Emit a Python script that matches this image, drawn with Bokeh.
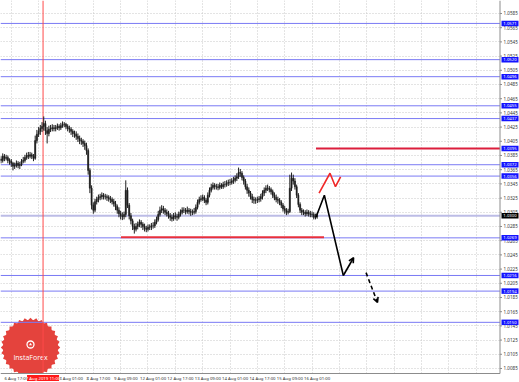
import math
from bokeh.plotting import figure
from bokeh.models import Range1d, FixedTicker, Arrow, OpenHead, ColumnDataSource, Grid
from bokeh.core.properties import value
from bokeh.embed import file_html
from bokeh.resources import INLINE

# ---------------- data (H1 bars, 6 Aug 11:00 .. 16 Aug 07:00, 2019) ----------------
first_open = 1.0380
close = [
    1.0378, 1.0384, 1.0381, 1.0382, 1.0378, 1.0377, 1.0374, 1.0370, 1.0371, 1.0374,
    1.0371, 1.0372, 1.0377, 1.0378, 1.0382, 1.0385, 1.0384, 1.0386, 1.0384, 1.0381,
    1.0406, 1.0415, 1.0419, 1.0423, 1.0426, 1.0430, 1.0420, 1.0416, 1.0422, 1.0423,
    1.0424, 1.0423, 1.0424, 1.0426, 1.0424, 1.0427, 1.0429, 1.0429, 1.0426, 1.0423,
    1.0422, 1.0419, 1.0416, 1.0415, 1.0412, 1.0409, 1.0406, 1.0405, 1.0402, 1.0399,
    1.0392, 1.0364, 1.0339, 1.0315, 1.0308, 1.0320, 1.0323, 1.0326, 1.0327, 1.0329,
    1.0327, 1.0327, 1.0326, 1.0324, 1.0323, 1.0320, 1.0317, 1.0313, 1.0308, 1.0303,
    1.0300, 1.0299, 1.0302, 1.0336, 1.0315, 1.0300, 1.0293, 1.0285, 1.0281, 1.0285,
    1.0288, 1.0291, 1.0288, 1.0285, 1.0282, 1.0281, 1.0284, 1.0284, 1.0286, 1.0286,
    1.0291, 1.0295, 1.0302, 1.0308, 1.0310, 1.0308, 1.0305, 1.0303, 1.0300, 1.0298,
    1.0296, 1.0300, 1.0299, 1.0298, 1.0302, 1.0305, 1.0308, 1.0308, 1.0306, 1.0308,
    1.0306, 1.0305, 1.0305, 1.0306, 1.0312, 1.0319, 1.0323, 1.0324, 1.0326, 1.0322,
    1.0319, 1.0329, 1.0336, 1.0340, 1.0343, 1.0341, 1.0341, 1.0340, 1.0343, 1.0341,
    1.0344, 1.0344, 1.0346, 1.0347, 1.0347, 1.0349, 1.0350, 1.0353, 1.0355, 1.0361,
    1.0360, 1.0354, 1.0349, 1.0341, 1.0336, 1.0332, 1.0327, 1.0323, 1.0322, 1.0322,
    1.0323, 1.0324, 1.0327, 1.0332, 1.0336, 1.0339, 1.0339, 1.0337, 1.0334, 1.0329,
    1.0326, 1.0323, 1.0322, 1.0319, 1.0315, 1.0310, 1.0308, 1.0305, 1.0306, 1.0339,
    1.0353, 1.0349, 1.0341, 1.0329, 1.0316, 1.0308, 1.0305, 1.0305, 1.0303, 1.0305,
    1.0303, 1.0302, 1.0302, 1.0298, 1.0299, 1.0300,
]
high = [
    1.0384, 1.0388, 1.0387, 1.0386, 1.0385, 1.0381, 1.0380, 1.0376, 1.0375, 1.0378,
    1.0377, 1.0376, 1.0380, 1.0383, 1.0386, 1.0389, 1.0390, 1.0390, 1.0389, 1.0387,
    1.0413, 1.0421, 1.0425, 1.0428, 1.0432, 1.0440, 1.0434, 1.0425, 1.0427, 1.0428,
    1.0429, 1.0428, 1.0428, 1.0430, 1.0429, 1.0431, 1.0433, 1.0432, 1.0431, 1.0429,
    1.0427, 1.0425, 1.0422, 1.0420, 1.0419, 1.0416, 1.0413, 1.0410, 1.0408, 1.0406,
    1.0403, 1.0395, 1.0367, 1.0343, 1.0319, 1.0324, 1.0327, 1.0330, 1.0331, 1.0333,
    1.0332, 1.0331, 1.0330, 1.0329, 1.0328, 1.0326, 1.0324, 1.0321, 1.0316, 1.0312,
    1.0307, 1.0305, 1.0306, 1.0350, 1.0340, 1.0318, 1.0304, 1.0296, 1.0289, 1.0290,
    1.0292, 1.0295, 1.0294, 1.0291, 1.0289, 1.0286, 1.0288, 1.0288, 1.0290, 1.0291,
    1.0295, 1.0299, 1.0307, 1.0313, 1.0315, 1.0314, 1.0311, 1.0309, 1.0307, 1.0304,
    1.0302, 1.0304, 1.0305, 1.0303, 1.0306, 1.0309, 1.0312, 1.0312, 1.0311, 1.0313,
    1.0311, 1.0310, 1.0309, 1.0311, 1.0316, 1.0323, 1.0327, 1.0329, 1.0330, 1.0329,
    1.0325, 1.0333, 1.0340, 1.0345, 1.0347, 1.0346, 1.0345, 1.0345, 1.0347, 1.0346,
    1.0348, 1.0349, 1.0350, 1.0351, 1.0352, 1.0353, 1.0355, 1.0357, 1.0360, 1.0368,
    1.0366, 1.0363, 1.0357, 1.0352, 1.0345, 1.0340, 1.0335, 1.0331, 1.0327, 1.0326,
    1.0327, 1.0328, 1.0331, 1.0336, 1.0340, 1.0343, 1.0344, 1.0342, 1.0340, 1.0337,
    1.0333, 1.0330, 1.0327, 1.0325, 1.0322, 1.0318, 1.0314, 1.0311, 1.0310, 1.0358,
    1.0361, 1.0358, 1.0353, 1.0344, 1.0332, 1.0319, 1.0311, 1.0309, 1.0308, 1.0309,
    1.0308, 1.0307, 1.0306, 1.0305, 1.0303, 1.0304,
]
low = [
    1.0374, 1.0375, 1.0377, 1.0378, 1.0374, 1.0372, 1.0369, 1.0364, 1.0366, 1.0368,
    1.0367, 1.0366, 1.0370, 1.0374, 1.0375, 1.0379, 1.0380, 1.0381, 1.0380, 1.0377,
    1.0379, 1.0402, 1.0411, 1.0414, 1.0418, 1.0420, 1.0414, 1.0402, 1.0412, 1.0418,
    1.0419, 1.0419, 1.0419, 1.0421, 1.0420, 1.0421, 1.0424, 1.0425, 1.0422, 1.0419,
    1.0417, 1.0414, 1.0411, 1.0410, 1.0407, 1.0404, 1.0401, 1.0400, 1.0397, 1.0393,
    1.0386, 1.0358, 1.0332, 1.0309, 1.0303, 1.0305, 1.0316, 1.0319, 1.0322, 1.0323,
    1.0323, 1.0323, 1.0321, 1.0320, 1.0318, 1.0316, 1.0313, 1.0308, 1.0303, 1.0298,
    1.0295, 1.0294, 1.0295, 1.0298, 1.0311, 1.0295, 1.0288, 1.0280, 1.0275, 1.0278,
    1.0281, 1.0284, 1.0283, 1.0280, 1.0278, 1.0277, 1.0278, 1.0280, 1.0280, 1.0282,
    1.0283, 1.0288, 1.0292, 1.0299, 1.0304, 1.0303, 1.0301, 1.0299, 1.0296, 1.0293,
    1.0292, 1.0293, 1.0295, 1.0293, 1.0295, 1.0299, 1.0302, 1.0304, 1.0302, 1.0303,
    1.0302, 1.0300, 1.0301, 1.0302, 1.0303, 1.0309, 1.0316, 1.0320, 1.0321, 1.0318,
    1.0315, 1.0316, 1.0326, 1.0333, 1.0337, 1.0337, 1.0337, 1.0336, 1.0337, 1.0338,
    1.0338, 1.0340, 1.0341, 1.0342, 1.0343, 1.0344, 1.0345, 1.0347, 1.0349, 1.0352,
    1.0355, 1.0350, 1.0344, 1.0337, 1.0331, 1.0327, 1.0323, 1.0318, 1.0317, 1.0317,
    1.0318, 1.0319, 1.0320, 1.0323, 1.0328, 1.0332, 1.0335, 1.0333, 1.0330, 1.0325,
    1.0322, 1.0319, 1.0317, 1.0315, 1.0311, 1.0306, 1.0303, 1.0301, 1.0302, 1.0304,
    1.0335, 1.0344, 1.0337, 1.0325, 1.0312, 1.0304, 1.0301, 1.0301, 1.0299, 1.0300,
    1.0299, 1.0298, 1.0298, 1.0295, 1.0295, 1.0296,
]

# time axis labels and the bar index of each labelled hour
time_labels = ["6 Aug 17:00", "7 Aug 09:00", "8 Aug 01:00", "8 Aug 17:00",
               "9 Aug 09:00", "12 Aug 01:00", "12 Aug 17:00", "13 Aug 09:00",
               "14 Aug 01:00", "14 Aug 17:00", "15 Aug 09:00", "16 Aug 01:00"]
time_label_bars = [6, 22, 38, 54, 70, 86, 102, 118, 134, 150, 166, 182]

# price axis tick labels
price_ticks = [1.0585, 1.0565, 1.0545, 1.0525, 1.0505, 1.0485, 1.0465, 1.0445,
               1.0425, 1.0405, 1.0385, 1.0365, 1.0345, 1.0325, 1.0305, 1.0285,
               1.0265, 1.0245, 1.0225, 1.0205, 1.0185, 1.0165, 1.0145, 1.0125,
               1.0105, 1.0085]

# horizontal levels (blue)
blue_levels = [1.0571, 1.0520, 1.0496, 1.0455, 1.0437, 1.0372, 1.0356,
               1.0300, 1.0269, 1.0216, 1.0194, 1.0150]
# red resistance / support segments
red_upper = 1.0395
red_upper_from = 184.3
red_lower = 1.0270
red_lower_from = 70.2
red_lower_to = 189.0

# marked bar (vertical red line) and its label
marked_bar = 24.6
marked_label = "7 Aug 2019 11:00"

# forecast paths (bar index, price)
fc_bars = [184.3, 189.2, 200.3]
fc_prices = [1.0298, 1.0329, 1.0216]
fc_arrow = (200.3, 1.0216, 206.3, 1.0241)
fc_dash_arrow = (213.6, 1.0220, 220.3, 1.0178)
alt_bars = [186.1, 192.5, 195.7, 198.7]
alt_prices = [1.0332, 1.0360, 1.0341, 1.0355]

assert len(close) == len(high) == len(low) == 186
opens = [first_open] + close[:-1]
idx = list(range(len(close)))

# ---------------- layout helpers (screen px -> data) ----------------
W, H = 519, 382
PXB = 1.709          # px per bar
X0 = -0.3
Y_TOP = 1.06033
PXP = 7100.0         # px per price unit
PLOT_R = 499.5
PLOT_B = 373.0

def bx(px):
    return X0 + px / PXB

def py(pxy):
    return Y_TOP - pxy / PXP

X1 = bx(W)
Y0 = py(H)

p = figure(width=W, height=H, x_range=Range1d(X0, X1), y_range=Range1d(Y0, Y_TOP),
           output_backend="svg", toolbar_location=None,
           x_axis_location=None, y_axis_location=None, min_border=0,
           background_fill_color="white", border_fill_color="white")
p.outline_line_color = None
p.grid.visible = False

p.add_layout(Grid(dimension=1, ticker=FixedTicker(ticks=price_ticks),
                  grid_line_color="#c8c8c8", grid_line_dash="1 2"))
p.add_layout(Grid(dimension=0, ticker=FixedTicker(ticks=list(range(6, 300, 16))),
                  grid_line_color="#c8c8c8", grid_line_dash="1 2"))

FONT = value("Noto Sans")

# logo
logo_x, logo_y = bx(30), py(347)
for k in range(8):
    p.scatter(x=[logo_x], y=[logo_y], marker="square", size=42,
              angle=k * math.pi / 16, fill_color="#e4433d", line_color=None)
p.scatter(x=[logo_x], y=[logo_y], marker="circle", size=55, fill_color="#e4433d", line_color=None)
p.scatter(x=[logo_x], y=[py(344)], marker="circle", size=7,
          fill_color=None, line_color="white", line_width=1.3)
p.scatter(x=[logo_x], y=[py(344)], marker="triangle", size=3,
          fill_color="white", line_color=None)
p.text(x=[logo_x], y=[py(357)], text=["InstaForex"], text_align="center",
       text_baseline="middle", text_color="white", text_font_size="7px",
       text_font=value("Open Sans"))

# horizontal levels
xr = bx(PLOT_R)
lvl_src = ColumnDataSource(dict(
    y=blue_levels,
    c=["#bcbce6" if lv == close[-1] else "#7a7af4" for lv in blue_levels],
    w=[2 if lv == close[-1] else 1 for lv in blue_levels]))
p.segment(x0=X0, x1=xr, y0="y", y1="y", line_color="c", line_width="w", source=lvl_src)

p.segment(x0=[red_upper_from], y0=[red_upper], x1=[xr], y1=[red_upper],
          line_color="#dc1e3c", line_width=2)
p.segment(x0=[red_lower_from], y0=[red_lower], x1=[red_lower_to], y1=[red_lower],
          line_color="#e8303c", line_width=2)

# vertical marker
p.segment(x0=[marked_bar], x1=[marked_bar], y0=[Y_TOP], y1=[py(PLOT_B)],
          line_color="#ff4a4a", line_width=1)

# candles
src = ColumnDataSource(dict(x=idx, o=opens, h=high, l=low, c=close,
                            top=[max(a, b) for a, b in zip(opens, close)],
                            bot=[min(a, b) for a, b in zip(opens, close)]))
p.segment(x0="x", y0="l", x1="x", y1="h", source=src, line_color="#1e1e1e", line_width=1)
p.vbar(x="x", width=0.7, top="top", bottom="bot", source=src,
       fill_color="#1e1e1e", line_color="#1e1e1e", line_width=0.5)

# forecast drawings
p.line(fc_bars, fc_prices, line_color="black", line_width=1.6)
p.line(alt_bars, alt_prices, line_color="#f02828", line_width=1.6)
p.add_layout(Arrow(end=OpenHead(size=5, line_color="black", line_width=1.6),
                   x_start=fc_arrow[0], y_start=fc_arrow[1], x_end=fc_arrow[2], y_end=fc_arrow[3],
                   line_color="black", line_width=1.6))
p.add_layout(Arrow(end=OpenHead(size=5, line_color="black", line_width=1.6),
                   x_start=fc_dash_arrow[0], y_start=fc_dash_arrow[1],
                   x_end=fc_dash_arrow[2], y_end=fc_dash_arrow[3],
                   line_color="black", line_width=1.6, line_dash="4 3"))

# axis areas (cover grid / logo outside the plot area)
p.quad(left=[xr], right=[X1 + 1], bottom=[Y0 - 0.01], top=[Y_TOP + 0.01],
       fill_color="white", line_color=None)
p.quad(left=[X0 - 1], right=[X1 + 1], bottom=[Y0 - 0.01], top=[py(PLOT_B)],
       fill_color="white", line_color=None)

# axis lines and ticks
p.segment(x0=[xr], x1=[xr], y0=[Y_TOP], y1=[py(PLOT_B)], line_color="#8c8c8c", line_width=1)
p.segment(x0=[X0], x1=[xr], y0=[py(PLOT_B)], y1=[py(PLOT_B)], line_color="#8c8c8c", line_width=1)
p.segment(x0=xr, x1=bx(PLOT_R + 2), y0=price_ticks, y1=price_ticks,
          line_color="#8c8c8c", line_width=1)

# price tick labels
p.text(x=bx(503), y=price_ticks, text=[f"{v:.4f}" for v in price_ticks],
       text_align="left", text_baseline="middle", text_color="#333333",
       text_font_size="4.6px", text_font=FONT)

# time tick labels
p.text(x=[b + 3 for b in time_label_bars], y=py(377.5), text=time_labels,
       text_align="center", text_baseline="middle", text_color="#333333",
       text_font_size="4.3px", text_font=FONT)

# level price labels on the axis
lab_levels = blue_levels + [red_upper]
lab_src = ColumnDataSource(dict(
    y=lab_levels, t=[f"{v:.4f}" for v in lab_levels],
    c=["#000000" if v == close[-1] else "#1414ff" for v in lab_levels]))
p.rect(x=bx(509.5), y="y", width=17, height=5.5, width_units="screen", height_units="screen",
       fill_color="c", line_color=None, source=lab_src)
p.text(x=bx(509.5), y="y", text="t", text_align="center", text_baseline="middle",
       text_color="white", text_font_size="4.3px", text_font=FONT, source=lab_src)

# marked time label
p.rect(x=[marked_bar], y=[py(377.5)], width=32, height=6, width_units="screen",
       height_units="screen", fill_color="#ff1a1a", line_color=None)
p.text(x=[marked_bar], y=[py(377.5)], text=[marked_label], text_align="center",
       text_baseline="middle", text_color="white", text_font_size="4.3px", text_font=FONT)

open("out.html", "w").write(file_html(p, INLINE))
